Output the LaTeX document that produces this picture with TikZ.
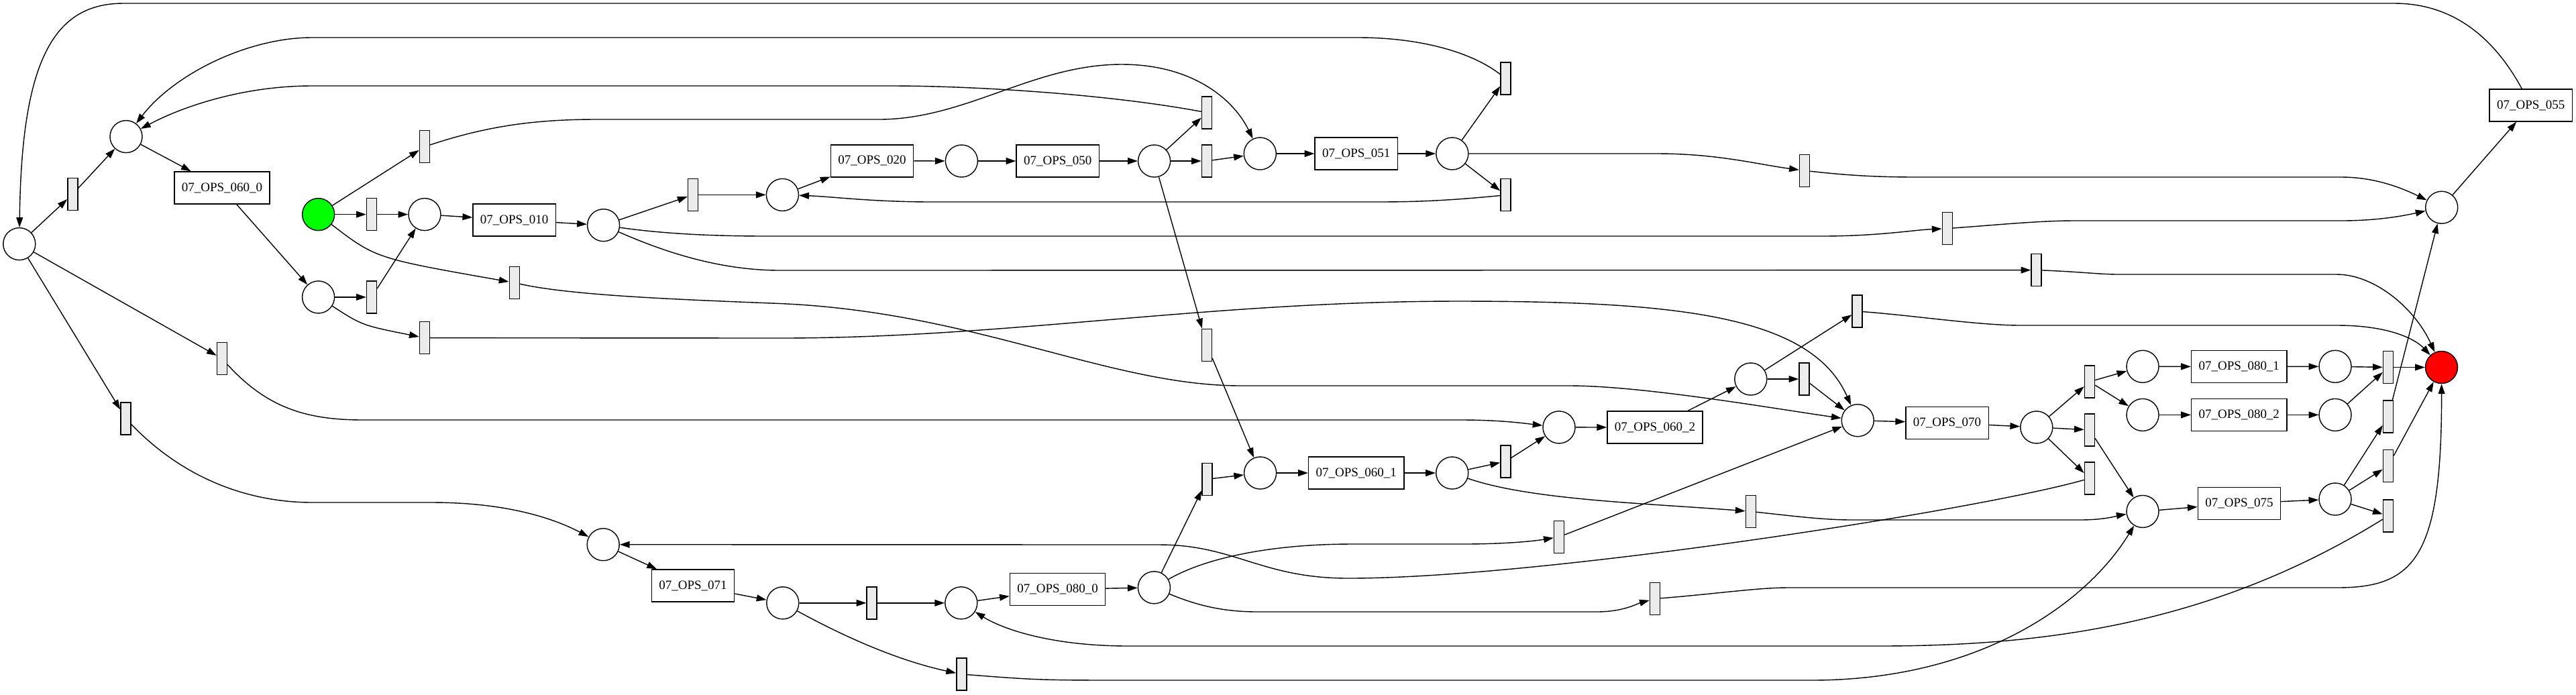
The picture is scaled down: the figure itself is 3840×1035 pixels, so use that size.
\documentclass[tikz,border=0pt]{standalone}
\usepackage{fontspec}
\setmainfont{Liberation Serif}
\usetikzlibrary{arrows.meta}
\tikzset{
  pnp/.style={circle, draw=black, fill=white, minimum size=4.8mm, inner sep=0pt, line width=0.4pt},
  pnsrc/.style={pnp, fill=green},
  pnsnk/.style={pnp, fill=red},
  pnt/.style={rectangle, draw=black, fill=white, minimum height=4.8mm, inner xsep=1.1mm, inner ysep=0pt, line width=0.4pt, font=\fontsize{5.4}{6}\selectfont},
  pnh/.style={rectangle, draw=black, fill=black!8, minimum width=1.5mm, minimum height=4.8mm, inner sep=0pt, line width=0.4pt},
  pna/.style={draw=black, line width=0.4pt, -{Triangle[length=4.2pt, width=2.8pt]}}
}
\begin{document}
\begin{tikzpicture}[x=0.01cm, y=-0.01cm]
  \useasboundingbox (0,0) rectangle (3840,1035);
  % places
  \node[pnp] (p1) at (28.8,363.6) {};
  \node[pnp] (p2) at (188,203.6) {};
  \node[pnsrc] (src) at (474.6,319.6) {};
  \node[pnp] (p3) at (633,319.6) {};
  \node[pnp] (p4) at (474.6,442.9) {};
  \node[pnp] (p5) at (899.6,335.7) {};
  \node[pnp] (p6) at (1166.4,290.4) {};
  \node[pnp] (p7) at (1433.4,240) {};
  \node[pnp] (p8) at (1720.6,240) {};
  \node[pnp] (p9) at (1878.3,229) {};
  \node[pnp] (p10) at (2164.8,229) {};
  \node[pnp] (p11) at (3639.7,309.2) {};
  \node[pnsnk] (snk) at (3639.5,547.5) {};
  \node[pnp] (p12) at (1878.6,705) {};
  \node[pnp] (p13) at (2164.7,705) {};
  \node[pnp] (p14) at (2324,636.9) {};
  \node[pnp] (p15) at (2609.8,565) {};
  \node[pnp] (p16) at (2769.2,626.7) {};
  \node[pnp] (p17) at (3035.8,636.9) {};
  \node[pnp] (p18) at (3194,546.3) {};
  \node[pnp] (p19) at (3194,618.4) {};
  \node[pnp] (p20) at (3481,546.3) {};
  \node[pnp] (p21) at (3481,618.4) {};
  \node[pnp] (p22) at (3194,762.4) {};
  \node[pnp] (p23) at (3481,744) {};
  \node[pnp] (p24) at (899.2,811.7) {};
  \node[pnp] (p25) at (1166.8,898.8) {};
  \node[pnp] (p26) at (1432.8,898.8) {};
  \node[pnp] (p27) at (1720.4,875.8) {};
  % labelled transitions
  \node[pnt] (t0600) at (331,280) {07\_OPS\_060\_0};
  \node[pnt] (t010) at (766.6,328) {07\_OPS\_010};
  \node[pnt] (t020) at (1300,239.8) {07\_OPS\_020};
  \node[pnt] (t050) at (1576.7,240) {07\_OPS\_050};
  \node[pnt] (t051) at (2021.8,229) {07\_OPS\_051};
  \node[pnt] (t055) at (3772.7,157) {07\_OPS\_055};
  \node[pnt] (t0601) at (2021.8,705) {07\_OPS\_060\_1};
  \node[pnt] (t0602) at (2467,637) {07\_OPS\_060\_2};
  \node[pnt] (t070) at (2902.5,630.4) {07\_OPS\_070};
  \node[pnt] (t0801) at (3337.8,546.5) {07\_OPS\_080\_1};
  \node[pnt] (t0802) at (3337.8,618.4) {07\_OPS\_080\_2};
  \node[pnt] (t075) at (3338,750.4) {07\_OPS\_075};
  \node[pnt] (t071) at (1033,873) {07\_OPS\_071};
  \node[pnt] (t0800) at (1576.6,878.4) {07\_OPS\_080\_0};
  % silent transitions
  \node[pnh] (s1) at (108.4,289.3) {};
  \node[pnh] (s2) at (554,319.6) {};
  \node[pnh] (s3) at (633,218.6) {};
  \node[pnh] (s4) at (554,442.9) {};
  \node[pnh] (s5) at (766.7,421.4) {};
  \node[pnh] (s6) at (633,503.6) {};
  \node[pnh] (s7) at (331,534.6) {};
  \node[pnh] (s8) at (187.5,624) {};
  \node[pnh] (s9) at (1032.9,290.4) {};
  \node[pnh] (s10) at (1799,167.9) {};
  \node[pnh] (s11) at (1799,240) {};
  \node[pnh] (s12) at (1799,514.3) {};
  \node[pnh] (s13) at (2244.4,117) {};
  \node[pnh] (s14) at (2244.4,290.7) {};
  \node[pnh] (s15) at (2690,254.3) {};
  \node[pnh] (s16) at (2902.8,340.6) {};
  \node[pnh] (s17) at (3035.5,402.6) {};
  \node[pnh] (s18) at (2768.6,464) {};
  \node[pnh] (s19) at (2689.5,565) {};
  \node[pnh] (s20) at (2244.4,687.8) {};
  \node[pnh] (s21) at (2609.8,762.4) {};
  \node[pnh] (s22) at (2324,800.4) {};
  \node[pnh] (s23) at (2467,892.5) {};
  \node[pnh] (s24) at (1299.5,898.8) {};
  \node[pnh] (s25) at (1433.4,1005) {};
  \node[pnh] (s26) at (1799.5,714.3) {};
  \node[pnh] (s27) at (3114.9,569) {};
  \node[pnh] (s28) at (3114.9,640.8) {};
  \node[pnh] (s29) at (3114.9,713) {};
  \node[pnh] (s30) at (3560,547.5) {};
  \node[pnh] (s31) at (3560,621) {};
  \node[pnh] (s32) at (3560,694.5) {};
  \node[pnh] (s33) at (3560,769) {};
  % short arcs
  \draw[pna] (p1) -- (s1);
  \draw[pna] (s1) -- (p2);
  \draw[pna] (p2) -- (t0600);
  \draw[pna] (t0600) -- (p4);
  \draw[pna] (src) -- (s2);
  \draw[pna] (s2) -- (p3);
  \draw[pna] (src) -- (s3);
  \draw[pna] (src) .. controls (560,385) .. (s5);
  \draw[pna] (p4) -- (s4);
  \draw[pna] (s4) -- (p3);
  \draw[pna] (p4) .. controls (540,485) .. (s6);
  \draw[pna] (p3) -- (t010);
  \draw[pna] (t010) -- (p5);
  \draw[pna] (p1) -- (s7);
  \draw[pna] (p1) -- (s8);
  \draw[pna] (p5) -- (s9);
  \draw[pna] (s9) -- (p6);
  \draw[pna] (p6) -- (t020);
  \draw[pna] (t020) -- (p7);
  \draw[pna] (p7) -- (t050);
  \draw[pna] (t050) -- (p8);
  \draw[pna] (p8) -- (s10);
  \draw[pna] (p8) -- (s11);
  \draw[pna] (p8) -- (s12);
  \draw[pna] (s11) -- (p9);
  \draw[pna] (p9) -- (t051);
  \draw[pna] (t051) -- (p10);
  \draw[pna] (p10) -- (s13);
  \draw[pna] (p10) -- (s14);
  \draw[pna] (p11) -- (t055);
  \draw[pna] (s12) -- (p12);
  \draw[pna] (p12) -- (t0601);
  \draw[pna] (t0601) -- (p13);
  \draw[pna] (p13) -- (s20);
  \draw[pna] (s20) -- (p14);
  \draw[pna] (p14) -- (t0602);
  \draw[pna] (t0602) -- (p15);
  \draw[pna] (p15) -- (s18);
  \draw[pna] (p15) -- (s19);
  \draw[pna] (s19) -- (p16);
  \draw[pna] (s22) -- (p16);
  \draw[pna] (p16) -- (t070);
  \draw[pna] (t070) -- (p17);
  \draw[pna] (p17) -- (s27);
  \draw[pna] (p17) -- (s28);
  \draw[pna] (p17) -- (s29);
  \draw[pna] (s27) -- (p18);
  \draw[pna] (s27) -- (p19);
  \draw[pna] (p18) -- (t0801);
  \draw[pna] (t0801) -- (p20);
  \draw[pna] (p20) -- (s30);
  \draw[pna] (s30) -- (snk);
  \draw[pna] (p19) -- (t0802);
  \draw[pna] (t0802) -- (p21);
  \draw[pna] (p21) -- (s30);
  \draw[pna] (s28) -- (p22);
  \draw[pna] (p22) -- (t075);
  \draw[pna] (t075) -- (p23);
  \draw[pna] (p23) -- (s31);
  \draw[pna] (s31) -- (p11);
  \draw[pna] (p23) -- (s32);
  \draw[pna] (s32) -- (snk);
  \draw[pna] (p23) -- (s33);
  \draw[pna] (p24) -- (t071);
  \draw[pna] (t071) -- (p25);
  \draw[pna] (p25) -- (s24);
  \draw[pna] (s24) -- (p26);
  \draw[pna] (p26) -- (t0800);
  \draw[pna] (t0800) -- (p27);
  \draw[pna] (p27) -- (s26);
  \draw[pna] (s26) -- (p12);
  \draw[pna] (p25) .. controls (1260,950) and (1340,985) .. (s25);
  % long arcs
  \draw[pna] (t055) .. controls (3720,60) and (3660,5) .. (3569,5) -- (184,5) .. controls (80,5) and (32,90) .. (p1);
  \draw[pna] (s13) .. controls (2190,75) and (2110,56) .. (2025,56) -- (465,56) .. controls (370,56) and (260,110) .. (p2);
  \draw[pna] (s10) .. controls (1650,140) and (1450,128) .. (1330,128) -- (465,128) .. controls (360,128) and (270,160) .. (p2);
  \draw[pna] (s3) .. controls (720,190) and (790,178) .. (888,178) -- (1310,178) .. controls (1440,178) and (1540,96) .. (1672,96) .. controls (1780,96) and (1840,150) .. (p9);
  \draw[pna] (s14) .. controls (2150,300) and (2100,301) .. (2050,301) -- (1390,301) .. controls (1300,301) and (1240,293) .. (p6);
  \draw[pna] (p10) -- (2470,229) .. controls (2560,229) and (2620,245) .. (s15);
  \draw[pna] (s15) .. controls (2760,262) and (2800,264) .. (2860,264) -- (3490,264) .. controls (3540,264) and (3580,280) .. (p11);
  \draw[pna] (p5) .. controls (1000,350) and (1080,352) .. (1145,352) -- (2715,352) .. controls (2800,352) and (2850,343) .. (s16);
  \draw[pna] (s16) .. controls (2980,335) and (3040,329) .. (3092,329) -- (3490,329) .. controls (3550,329) and (3590,320) .. (p11);
  \draw[pna] (p5) .. controls (1000,380) and (1080,403) .. (1163,403) -- (s17);
  \draw[pna] (s17) .. controls (3100,405) and (3130,409) .. (3158,409) -- (3483,409) .. controls (3540,409) and (3600,460) .. (snk);
  \draw[pna] (s18) .. controls (2850,470) and (2950,485) .. (3012,485) -- (3484,485) .. controls (3560,485) and (3600,505) .. (snk);
  \draw[pna] (s5) .. controls (850,440) and (1000,446) .. (1150,452) .. controls (1450,462) and (1650,575) .. (1850,575) -- (2340,575) .. controls (2450,575) and (2650,610) .. (p16);
  \draw[pna] (s6) -- (1163,504) .. controls (1500,504) and (1800,449) .. (2174,449) .. controls (2500,449) and (2700,470) .. (p16);
  \draw[pna] (s7) .. controls (400,610) and (460,626) .. (542,626) -- (2180,626) .. controls (2240,626) and (2280,632) .. (p14);
  \draw[pna] (s8) .. controls (280,720) and (380,749) .. (466,749) -- (644,749) .. controls (760,749) and (830,775) .. (p24);
  \draw[pna] (p13) .. controls (2280,745) and (2450,750) .. (s21);
  \draw[pna] (s21) .. controls (2680,770) and (2720,775) .. (2761,775) -- (3100,775) .. controls (3140,775) and (3160,768) .. (p22);
  \draw[pna] (s25) .. controls (1550,1014) .. (1700,1014) -- (2700,1014) .. controls (2950,1014) and (3110,900) .. (p22);
  \draw[pna] (p27) .. controls (1800,830) and (1900,811) .. (2015,811) -- (2180,811) .. controls (2250,811) and (2290,806) .. (s22);
  \draw[pna] (p27) .. controls (1790,905) and (1830,912) .. (1875,912) -- (2380,912) .. controls (2420,912) and (2440,900) .. (s23);
  \draw[pna] (s23) .. controls (2560,885) and (2620,876) .. (2665,876) -- (3484,876) .. controls (3600,876) and (3640,830) .. (snk);
  \draw[pna] (s29) .. controls (2950,760) and (2300,862) .. (2010,862) .. controls (1880,862) and (1840,812) .. (1728,812) -- (p24);
  \draw[pna] (s33) .. controls (3300,930) and (3050,963) .. (2800,963) -- (1683,963) .. controls (1560,963) and (1490,935) .. (p26);
\end{tikzpicture}
\end{document}
